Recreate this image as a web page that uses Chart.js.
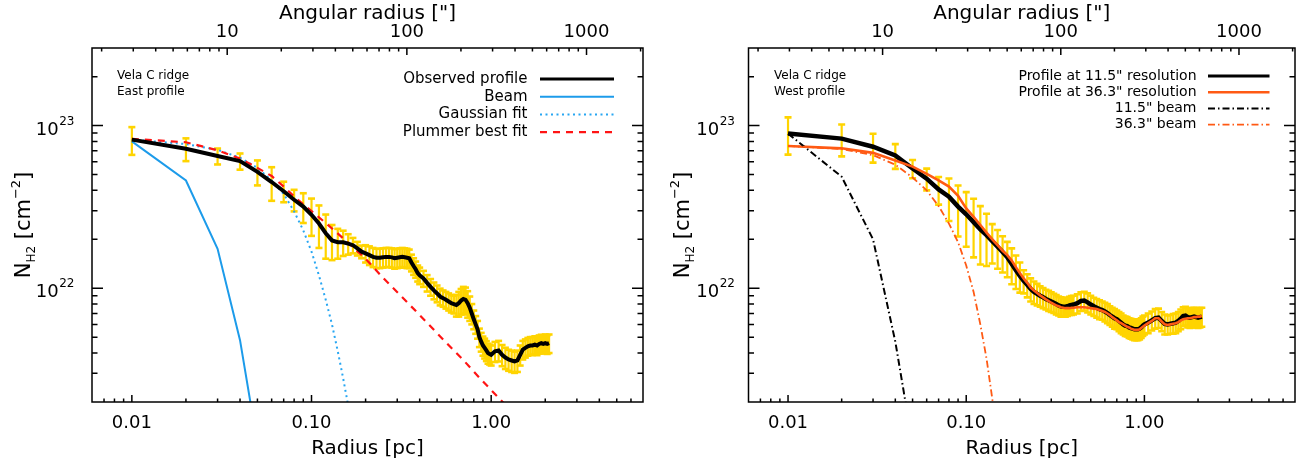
<!DOCTYPE html>
<html>
<head>
<meta charset="utf-8">
<script src="https://cdn.jsdelivr.net/npm/chart.js@4.4.1/dist/chart.umd.min.js"></script>
<style>
  html, body { margin: 0; padding: 0; background: #fff; }
  .panel { position: absolute; top: 0; width: 651px; height: 466px; }
  #east { left: 0; }
  #west { left: 651px; }
</style>
</head>
<body>
<div class="panel" id="east"><canvas id="cEast" width="651" height="466"></canvas></div>
<div class="panel" id="west"><canvas id="cWest" width="651" height="466"></canvas></div>
<script>
// Column densities are in units of 1e22 cm^-2, radii in pc.
const radiusPc = [
  0.01, 0.02, 0.03, 0.04, 0.05, 0.06, 0.07, 0.08, 0.09, 0.10,
  0.11, 0.12, 0.13, 0.14, 0.15, 0.16, 0.17, 0.18, 0.19, 0.20,
  0.21, 0.22, 0.23, 0.24, 0.25, 0.26, 0.27, 0.28, 0.29, 0.30,
  0.31, 0.32, 0.33, 0.34, 0.35, 0.36, 0.37, 0.38, 0.39, 0.40,
  0.42, 0.44, 0.46, 0.48, 0.50, 0.52, 0.54, 0.56, 0.58, 0.60,
  0.62, 0.64, 0.66, 0.68, 0.70, 0.72, 0.74, 0.76, 0.78, 0.80,
  0.82, 0.84, 0.86, 0.88, 0.90, 0.92, 0.94, 0.96, 0.98, 1.00,
  1.05, 1.10, 1.15, 1.20, 1.25, 1.30, 1.35, 1.40, 1.45, 1.50,
  1.55, 1.60, 1.65, 1.70, 1.75, 1.80, 1.85, 1.90, 1.95, 2.00, 2.05, 2.10
];

// East profile (observed) and its uncertainties
const eastProfile = [
  8.2, 7.2, 6.5, 6.05, 5.2, 4.5, 3.95, 3.5, 3.18, 2.83,
  2.5, 2.18, 1.97, 1.92, 1.92, 1.88, 1.84, 1.76, 1.68, 1.64,
  1.6, 1.56, 1.54, 1.54, 1.55, 1.56, 1.56, 1.55, 1.53, 1.54,
  1.55, 1.56, 1.55, 1.54, 1.53, 1.44, 1.37, 1.31, 1.24, 1.2,
  1.15, 1.08, 1.02, 0.97, 0.93, 0.89, 0.87, 0.85, 0.83, 0.81,
  0.80, 0.79, 0.81, 0.84, 0.86, 0.85, 0.81, 0.76, 0.70, 0.645,
  0.60, 0.56, 0.50, 0.47, 0.445, 0.43, 0.415, 0.40, 0.395, 0.39,
  0.41, 0.415, 0.39, 0.375, 0.365, 0.36, 0.355, 0.36, 0.39, 0.42,
  0.43, 0.44, 0.445, 0.445, 0.45, 0.445, 0.455, 0.46, 0.455, 0.46, 0.455, 0.46
];
const eastError = [
  1.59, 1.15, 0.73, 0.69, 0.91, 1.05, 0.57, 0.53, 0.66, 0.73,
  0.73, 0.66, 0.48, 0.40, 0.34, 0.27, 0.20, 0.17, 0.15, 0.20,
  0.21, 0.21, 0.21, 0.21, 0.21, 0.21, 0.21, 0.21, 0.21, 0.21,
  0.21, 0.21, 0.21, 0.21, 0.20, 0.17, 0.16, 0.15, 0.14, 0.14,
  0.13, 0.125, 0.12, 0.115, 0.11, 0.105, 0.1, 0.1, 0.1, 0.1,
  0.1, 0.12, 0.14, 0.15, 0.16, 0.16, 0.15, 0.13, 0.1, 0.085,
  0.075, 0.07, 0.065, 0.062, 0.06, 0.06, 0.058, 0.056, 0.055, 0.055,
  0.058, 0.06, 0.058, 0.056, 0.054, 0.054, 0.053, 0.054, 0.055, 0.055,
  0.055, 0.055, 0.056, 0.056, 0.057, 0.057, 0.058, 0.058, 0.058, 0.06, 0.06, 0.06
];

// East: beam, Gaussian fit and Plummer-like fit
const beamRadius = [0.01, 0.02, 0.03, 0.04, 0.05];
const eastBeam = [8.0, 4.6, 1.75, 0.48, 0.11];
const gaussRadius = [0.01, 0.02, 0.03, 0.04, 0.05, 0.06, 0.07, 0.08, 0.09, 0.10, 0.11, 0.12, 0.13, 0.14, 0.15, 0.16, 0.17];
const eastGauss = [8.2, 7.7, 7.1, 6.35, 5.5, 4.6, 3.8, 2.97, 2.27, 1.68, 1.2, 0.85, 0.6, 0.41, 0.28, 0.19, 0.13];
const plummerRadius = [0.01, 0.02, 0.03, 0.04, 0.05, 0.06, 0.07, 0.08, 0.10, 0.12, 0.15, 0.20, 0.25, 0.32, 0.40, 0.56, 0.70, 0.86, 1.00, 1.30];
const eastPlummer = [8.3, 7.9, 7.05, 6.27, 5.5, 4.9, 4.22, 3.67, 2.98, 2.52, 2.03, 1.52, 1.16, 0.88, 0.685, 0.465, 0.362, 0.282, 0.237, 0.175];

// West profiles at two resolutions, uncertainties and beams
const westProfile115 = [
  8.93, 8.32, 7.42, 6.56, 5.45, 4.72, 4.05, 3.66, 3.18, 2.85,
  2.55, 2.30, 2.12, 1.95, 1.80, 1.67, 1.55, 1.41, 1.29, 1.19,
  1.11, 1.05, 0.99, 0.95, 0.925, 0.90, 0.88, 0.86, 0.845, 0.83,
  0.815, 0.80, 0.785, 0.775, 0.77, 0.77, 0.775, 0.785, 0.79, 0.795,
  0.81, 0.835, 0.84, 0.82, 0.795, 0.775, 0.76, 0.745, 0.735, 0.72,
  0.705, 0.685, 0.67, 0.655, 0.645, 0.63, 0.615, 0.60, 0.59, 0.585,
  0.575, 0.57, 0.565, 0.56, 0.56, 0.56, 0.565, 0.575, 0.59, 0.60,
  0.615, 0.635, 0.655, 0.66, 0.63, 0.605, 0.60, 0.605, 0.61, 0.615,
  0.63, 0.65, 0.675, 0.68, 0.665, 0.66, 0.665, 0.67, 0.665, 0.66, 0.665, 0.67
];
const westProfile363 = [
  7.5, 7.25, 6.8, 6.1, 5.6, 5.05, 4.6, 4.22, 3.7, 3.1,
  2.75, 2.45, 2.2, 2.0, 1.84, 1.7, 1.6, 1.48, 1.35, 1.24,
  1.15, 1.08, 1.01, 0.97, 0.935, 0.905, 0.88, 0.855, 0.835, 0.815,
  0.80, 0.785, 0.775, 0.765, 0.76, 0.755, 0.755, 0.755, 0.76, 0.76,
  0.765, 0.765, 0.765, 0.76, 0.755, 0.75, 0.745, 0.735, 0.725, 0.715,
  0.70, 0.685, 0.665, 0.65, 0.635, 0.62, 0.61, 0.60, 0.59, 0.58,
  0.575, 0.565, 0.56, 0.555, 0.555, 0.555, 0.56, 0.57, 0.58, 0.59,
  0.61, 0.63, 0.655, 0.655, 0.625, 0.60, 0.595, 0.60, 0.605, 0.61,
  0.62, 0.635, 0.645, 0.65, 0.655, 0.655, 0.66, 0.665, 0.665, 0.67, 0.67, 0.675
];
const westError = [
  2.3, 1.85, 1.5, 1.14, 0.7, 0.72, 0.78, 1.07, 1.1, 1.05,
  1.0, 0.9, 0.75, 0.53, 0.48, 0.42, 0.38, 0.35, 0.3, 0.25,
  0.18, 0.17, 0.16, 0.15, 0.14, 0.13, 0.125, 0.12, 0.12, 0.115,
  0.11, 0.11, 0.105, 0.105, 0.1, 0.1, 0.1, 0.1, 0.105, 0.105,
  0.11, 0.11, 0.11, 0.11, 0.105, 0.1, 0.1, 0.1, 0.095, 0.095,
  0.095, 0.09, 0.09, 0.09, 0.085, 0.085, 0.085, 0.08, 0.08, 0.08,
  0.08, 0.08, 0.08, 0.08, 0.08, 0.08, 0.08, 0.08, 0.08, 0.08,
  0.085, 0.085, 0.09, 0.09, 0.085, 0.085, 0.08, 0.08, 0.085, 0.085,
  0.085, 0.09, 0.09, 0.09, 0.09, 0.09, 0.09, 0.09, 0.09, 0.09, 0.09, 0.09
];
const westBeam115 = [8.93, 4.85, 2.0, 0.47, 0.11];
const westBeam363Radius = [0.01, 0.02, 0.03, 0.04, 0.05, 0.06, 0.07, 0.08, 0.09, 0.10, 0.11, 0.12, 0.13, 0.14, 0.15];
const westBeam363 = [7.5, 7.18, 6.58, 5.75, 4.8, 4.0, 3.2, 2.5, 1.92, 1.38, 0.95, 0.6, 0.37, 0.21, 0.12];

// Axis ticks
const radiusTickValues = [0.01, 0.1, 1];
const radiusTickLabels = ['0.01', '0.10', '1.00'];
const arcsecTickValues = [10, 100, 1000];
const arcsecTickLabels = ['10', '100', '1000'];
const columnTickValues = [1, 10];
const columnTickExponents = ['22', '23'];

const PC_PER_ARCSEC = 0.003394;   // 1 arcsec at 700 pc
const R_MIN = 0.006, R_MAX = 7.0;
const N_MIN = 0.2, N_MAX = 30;
const FONT = '"DejaVu Sans", "Liberation Sans", sans-serif';
const YELLOW = '#ffd400';

const pts = (r, v) => r.map((x, i) => ({ x, y: v[i] }));
function errorBarPoints(r, v, e) {
  const out = [];
  r.forEach((x, i) => {
    out.push({ x, y: v[i] - e[i] }, { x, y: v[i] + e[i] }, { x, y: null });
  });
  return out;
}
function errorDataset(r, v, e) {
  return {
    data: errorBarPoints(r, v, e), order: 20,
    borderColor: YELLOW, borderWidth: 2.2, spanGaps: false,
    pointStyle: 'line', pointRadius: 3.5, pointBorderWidth: 2.6,
    pointBorderColor: YELLOW, pointBackgroundColor: YELLOW, pointHoverRadius: 3.5
  };
}

// Inward tick marks and the frame around the plot
const frameTicks = {
  id: 'frameTicks',
  afterDraw(chart) {
    const { ctx, chartArea: a, scales } = chart;
    const marks = (s) => {
      const out = [];
      const e0 = Math.floor(Math.log10(s.min)), e1 = Math.ceil(Math.log10(s.max));
      for (let e = e0; e <= e1; e++) {
        for (let k = 1; k < 10; k++) {
          const v = k * Math.pow(10, e);
          if (v > s.min * 1.0001 && v < s.max * 0.9999) out.push({ v, major: k === 1 });
        }
      }
      return out;
    };
    const H = 7, V = 11;
    ctx.save();
    ctx.strokeStyle = '#000';
    ctx.lineWidth = 1.5;
    ctx.beginPath();
    marks(scales.x).forEach(({ v, major }) => {
      const p = scales.x.getPixelForValue(v), L = major ? H : H / 2;
      ctx.moveTo(p, a.bottom); ctx.lineTo(p, a.bottom - L);
    });
    marks(scales.x2).forEach(({ v, major }) => {
      const p = scales.x2.getPixelForValue(v), L = major ? H : H / 2;
      ctx.moveTo(p, a.top); ctx.lineTo(p, a.top + L);
    });
    marks(scales.y).forEach(({ v, major }) => {
      const p = scales.y.getPixelForValue(v), L = major ? V : V / 2;
      ctx.moveTo(a.left, p); ctx.lineTo(a.left + L, p);
    });
    marks(scales.y2).forEach(({ v, major }) => {
      const p = scales.y2.getPixelForValue(v), L = major ? V : V / 2;
      ctx.moveTo(a.right, p); ctx.lineTo(a.right - L, p);
    });
    ctx.stroke();
    ctx.strokeRect(a.left, a.top, a.right - a.left, a.bottom - a.top);
    ctx.restore();
  }
};

// Power-of-ten labels on the column-density axis and the rotated y title
const yLabels = {
  id: 'yLabels',
  afterDraw(chart, args, o) {
    const { ctx, chartArea: a, scales } = chart;
    ctx.save();
    ctx.fillStyle = '#000';
    ctx.textBaseline = 'alphabetic';
    ctx.textAlign = 'left';
    scales.y.ticks.forEach((t, i) => {
      const y = scales.y.getPixelForValue(t.value);
      ctx.font = `18px ${FONT}`;
      const wb = ctx.measureText('10').width;
      ctx.font = `12px ${FONT}`;
      const we = ctx.measureText(columnTickExponents[i]).width;
      const x0 = a.left - o.pad - wb - we;
      ctx.font = `18px ${FONT}`;
      ctx.fillText('10', x0, y + 9);
      ctx.font = `12px ${FONT}`;
      ctx.fillText(columnTickExponents[i], x0 + wb + 0.5, y - 1);
    });

    const parts = [
      { t: 'N', s: 21, d: 0 },
      { t: 'H2', s: 12, d: 5 },
      { t: ' [cm', s: 21, d: 0 },
      { t: '\u22122', s: 13, d: -10 },
      { t: ']', s: 21, d: 0 }
    ];
    let w = 0;
    parts.forEach(p => { ctx.font = `${p.s}px ${FONT}`; p.w = ctx.measureText(p.t).width; w += p.w; });
    ctx.translate(a.left - o.gap, (a.top + a.bottom) / 2);
    ctx.rotate(-Math.PI / 2);
    let x = -w / 2;
    parts.forEach(p => { ctx.font = `${p.s}px ${FONT}`; ctx.fillText(p.t, x, 7 + p.d); x += p.w; });
    ctx.restore();
  }
};

// Key: labels right-aligned, line samples to the right
const key = {
  id: 'key',
  afterDraw(chart, args, o) {
    const { ctx, chartArea: a } = chart;
    ctx.save();
    ctx.fillStyle = '#000';
    ctx.font = `${o.noteSize}px ${FONT}`;
    ctx.textAlign = 'left';
    ctx.textBaseline = 'middle';
    o.note.forEach((line, i) => ctx.fillText(line, a.left + o.noteX, a.top + o.noteY + i * 16));
    ctx.font = `${o.size}px ${FONT}`;
    ctx.textAlign = 'right';
    chart.data.datasets.filter(d => d.label).forEach((d, i) => {
      const y = a.top + o.top + i * o.step;
      ctx.fillText(d.label, a.left + o.textRight, y);
      ctx.beginPath();
      ctx.setLineDash(d.borderDash || []);
      ctx.lineWidth = Math.min(d.borderWidth, 3);
      ctx.strokeStyle = d.borderColor;
      ctx.moveTo(a.left + o.lineFrom, y);
      ctx.lineTo(a.left + o.lineTo, y);
      ctx.stroke();
    });
    ctx.restore();
  }
};

function makeChart(id, datasets, lay, keyOpts) {
  const tickFont = { family: FONT, size: 18 };
  const titleFont = { family: FONT, size: 20 };
  return new Chart(document.getElementById(id), {
    type: 'line',
    data: { datasets },
    plugins: [frameTicks, yLabels, key],
    options: {
      responsive: false,
      animation: false,
      events: [],
      layout: { padding: 0 },
      elements: { point: { radius: 0 }, line: { tension: 0 } },
      plugins: {
        legend: { display: false },
        tooltip: { enabled: false },
        yLabels: { gap: lay.titleGap, pad: lay.yPad },
        key: keyOpts
      },
      scales: {
        x: {
          type: 'logarithmic', position: 'bottom', min: R_MIN, max: R_MAX,
          afterFit: s => { s.height = 64; },
          afterBuildTicks: s => { s.ticks = radiusTickValues.map(v => ({ value: v })); },
          ticks: { callback: (v, i) => radiusTickLabels[i], font: tickFont, color: '#000', padding: 11, maxRotation: 0, autoSkip: false },
          grid: { display: false, drawTicks: false }, border: { display: false },
          title: { display: true, text: 'Radius [pc]', font: titleFont, color: '#000', padding: { top: 0, bottom: 5 } }
        },
        x2: {
          type: 'logarithmic', position: 'top', min: R_MIN / PC_PER_ARCSEC, max: R_MAX / PC_PER_ARCSEC,
          afterFit: s => { s.height = 48; },
          afterBuildTicks: s => { s.ticks = arcsecTickValues.map(v => ({ value: v })); },
          ticks: { callback: (v, i) => arcsecTickLabels[i], font: tickFont, color: '#000', padding: 5, maxRotation: 0, autoSkip: false },
          grid: { display: false, drawTicks: false }, border: { display: false },
          title: { display: true, text: 'Angular radius ["]', font: titleFont, color: '#000', padding: { top: 2, bottom: 0 } }
        },
        y: {
          type: 'logarithmic', position: 'left', min: N_MIN, max: N_MAX,
          afterFit: s => { s.width = lay.left; },
          afterBuildTicks: s => { s.ticks = columnTickValues.map(v => ({ value: v })); },
          ticks: { display: false },
          grid: { display: false, drawTicks: false }, border: { display: false }
        },
        y2: {
          type: 'logarithmic', position: 'right', min: N_MIN, max: N_MAX,
          afterFit: s => { s.width = lay.right; },
          ticks: { display: false },
          grid: { display: false, drawTicks: false }, border: { display: false }
        }
      }
    }
  });
}

// East panel
makeChart('cEast', [
  { label: 'Observed profile', data: pts(radiusPc, eastProfile), borderColor: '#000', borderWidth: 4, order: 0 },
  { label: 'Beam', data: pts(beamRadius, eastBeam), borderColor: '#1c9bea', borderWidth: 2, order: 3 },
  { label: 'Gaussian fit', data: pts(gaussRadius, eastGauss), borderColor: '#27a6f2', borderWidth: 2, borderDash: [2, 3.5], order: 2 },
  { label: 'Plummer best fit', data: pts(plummerRadius, eastPlummer), borderColor: '#ff1414', borderWidth: 2.2, borderDash: [7, 6], order: 1 },
  errorDataset(radiusPc, eastProfile, eastError)
], { left: 92, right: 8, yPad: 18, titleGap: 69 }, {
  note: ['Vela C ridge', 'East profile'], noteSize: 12, noteX: 25, noteY: 28,
  size: 15, top: 31, step: 17.7, textRight: 435.5, lineFrom: 448, lineTo: 522
});

// West panel
makeChart('cWest', [
  { label: 'Profile at 11.5" resolution', data: pts(radiusPc, westProfile115), borderColor: '#000', borderWidth: 4.5, order: 3 },
  { label: 'Profile at 36.3" resolution', data: pts(radiusPc, westProfile363), borderColor: '#ff5a14', borderWidth: 2.6, order: 2 },
  { label: '11.5" beam', data: pts(beamRadius, westBeam115), borderColor: '#000', borderWidth: 2, borderDash: [7, 3, 1.5, 3], order: 1 },
  { label: '36.3" beam', data: pts(westBeam363Radius, westBeam363), borderColor: '#ff5a14', borderWidth: 1.8, borderDash: [7, 3, 1.5, 3], order: 0 },
  errorDataset(radiusPc, westProfile115, westError)
], { left: 97.5, right: 7, yPad: 14, titleGap: 67 }, {
  note: ['Vela C ridge', 'West profile'], noteSize: 12, noteX: 25.5, noteY: 28,
  size: 14, top: 28, step: 16.2, textRight: 448, lineFrom: 459.5, lineTo: 521
});
</script>
</body>
</html>
